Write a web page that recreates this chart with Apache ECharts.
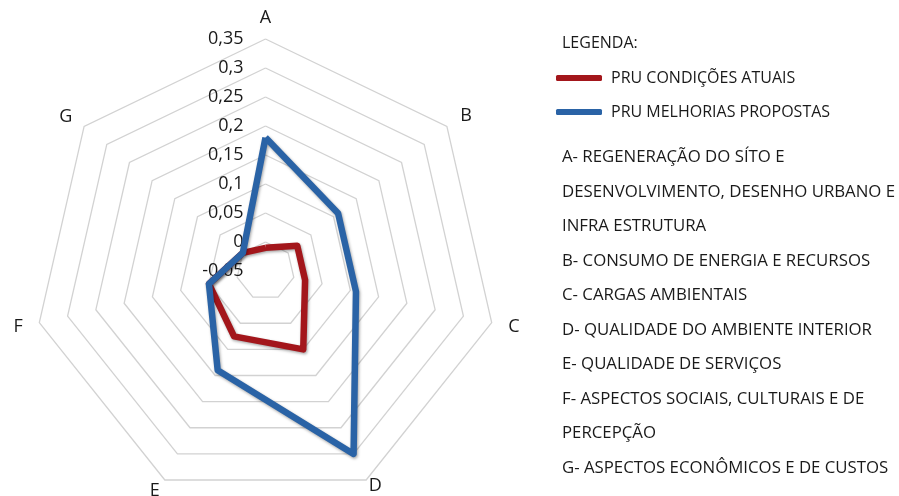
<!DOCTYPE html>
<html>
<head>
<meta charset="utf-8">
<script src="https://cdn.jsdelivr.net/npm/echarts@6/dist/echarts.min.js"></script>
<style>html,body{margin:0;padding:0;background:#fff}#c{width:899px;height:496px}</style>
</head>
<body>
<div id="c"></div>
<script>
// Data (clockwise order A..G as in the reference)
const categories = ['A', 'B', 'C', 'D', 'E', 'F', 'G'];
const seriesNames = ['PRU CONDIÇÕES ATUAIS', 'PRU MELHORIAS PROPOSTAS'];
const atuais = [-0.01, 0.02, 0.02, 0.10, 0.075, 0.05, 0.0];
const melhorias = [0.18, 0.11, 0.11, 0.30, 0.14, 0.05, 0.0];
const axisMin = -0.05;
const axisMax = 0.35;
const axisSplits = 8;
const legendTitle = 'LEGENDA:';
const descriptionLines = [
  'A- REGENERAÇÃO DO SÍTO E',
  'DESENVOLVIMENTO, DESENHO URBANO E',
  'INFRA ESTRUTURA',
  'B- CONSUMO DE ENERGIA E RECURSOS',
  'C- CARGAS AMBIENTAIS',
  'D- QUALIDADE DO AMBIENTE INTERIOR',
  'E- QUALIDADE DE SERVIÇOS',
  'F- ASPECTOS SOCIAIS, CULTURAIS E DE',
  'PERCEPÇÃO',
  'G- ASPECTOS ECONÔMICOS E DE CUSTOS'
];

// ECharts radar runs counter-clockwise; reorder so that A..G run clockwise
const order = [0, 6, 5, 4, 3, 2, 1];
const reorder = arr => order.map(i => arr[i]);

const FONT = '"Open Sans", "Noto Sans", sans-serif';
const fmt = v => String(Math.round(v * 100) / 100).replace('.', ',');
// name gap per axis (A..G), layout only
const nameGaps = [12, 17, 17, 6, 12, 17, 15];
const gapsOrdered = reorder(nameGaps);

const indicators = reorder(categories).map((name, i) => {
  const ind = { name: name, min: axisMin, max: axisMax, nameGap: gapsOrdered[i] };
  if (i === 0) {
    ind.axisLabel = { show: true, formatter: fmt, margin: 22, color: '#1a1a1a', fontSize: 18, fontFamily: FONT };
  }
  return ind;
});

const chart = echarts.init(document.getElementById('c'), null, { renderer: 'canvas' });
chart.setOption({
  backgroundColor: '#ffffff',
  animation: false,
  title: [
    { text: legendTitle, left: 562, top: 35, padding: 0,
      textStyle: { fontFamily: FONT, fontSize: 16, fontWeight: 'normal', color: '#1a1a1a' } },
    { text: descriptionLines.join('\n'), left: 562, top: 140, padding: 0,
      textStyle: { fontFamily: FONT, fontSize: 16.8, fontWeight: 'normal', color: '#1a1a1a', lineHeight: 34.5 } }
  ],
  legend: {
    orient: 'vertical', left: 556, top: 70, padding: 0,
    itemWidth: 46, itemHeight: 6, itemGap: 18, icon: 'roundRect',
    data: seriesNames,
    textStyle: { fontFamily: FONT, fontSize: 16, color: '#1a1a1a', padding: [0, 0, 0, 4] }
  },
  radar: {
    center: [265.5, 271],
    radius: 232,
    startAngle: 90,
    shape: 'polygon',
    splitNumber: axisSplits,
    axisName: { color: '#1a1a1a', fontSize: 18, fontFamily: FONT },
    axisLine: { show: false },
    axisTick: { show: false },
    axisLabel: { show: false },
    splitArea: { show: false },
    splitLine: { lineStyle: { color: '#d2d2d2', width: 1.3 } },
    indicator: indicators
  },
  series: [{
    type: 'radar',
    symbol: 'none',
    data: [
      { name: seriesNames[0], value: reorder(atuais),
        lineStyle: { color: '#a3161b', width: 6.5, shadowBlur: 3, shadowColor: 'rgba(0,0,0,0.35)', shadowOffsetX: 1, shadowOffsetY: 1.5 },
        itemStyle: { color: '#a3161b' } },
      { name: seriesNames[1], value: reorder(melhorias),
        lineStyle: { color: '#2a63a6', width: 6.5, shadowBlur: 3, shadowColor: 'rgba(0,0,0,0.35)', shadowOffsetX: 1, shadowOffsetY: 1.5 },
        itemStyle: { color: '#2a63a6' } }
    ]
  }]
});
</script>
</body>
</html>
